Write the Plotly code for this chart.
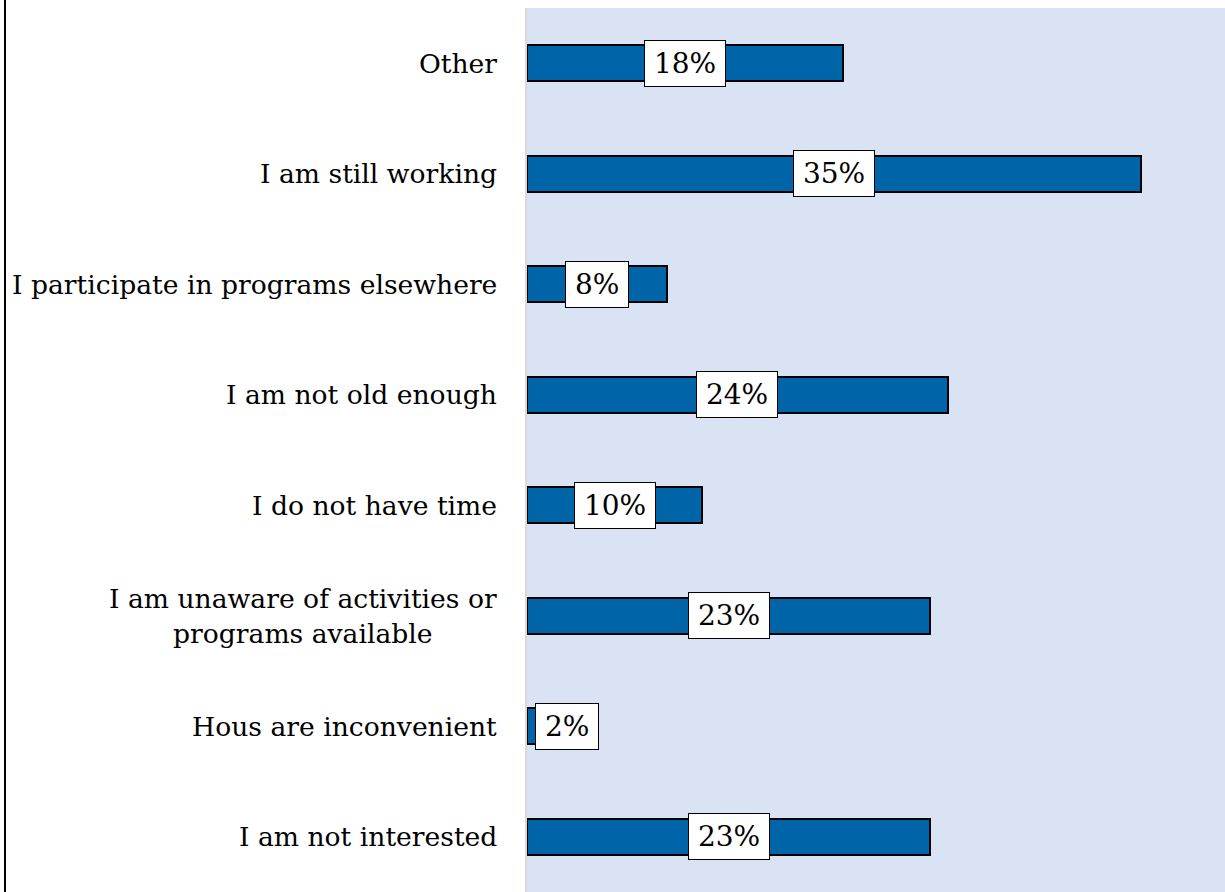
"""Horizontal bar chart: reasons for not participating."""

import plotly.graph_objects as go

categories = [
    "Other",
    "I am still working",
    "I participate in programs elsewhere",
    "I am not old enough",
    "I do not have time",
    "I am unaware of activities or<br>programs available",
    "Hous are inconvenient",
    "I am not interested",
]
percent = [18, 35, 8, 24, 10, 23, 2, 23]
x_max = 39.8

FONT = "DejaVu Serif"
BAR_COLOR = "#0064A8"
PLOT_BG = "#DAE3F3"
LABEL_SIZE = 28

fig = go.Figure(
    go.Bar(
        x=percent,
        y=categories,
        orientation="h",
        width=0.33,
        marker=dict(color=BAR_COLOR, line=dict(color="black", width=2)),
        hoverinfo="skip",
    )
)

# category labels, centred per line like the original
for cat in categories:
    fig.add_annotation(
        x=0, xref="paper", y=cat, yref="y",
        text=cat, showarrow=False,
        xanchor="right", xshift=-28, align="center",
        font=dict(family=FONT, size=26.6, color="black"),
    )

# value boxes in the middle of each bar
for cat, val in zip(categories, percent):
    label = f"{val}%"
    text_w = 0.636 * LABEL_SIZE * (len(label) - 1) + 0.95 * LABEL_SIZE + 10
    small = val < 5
    fig.add_annotation(
        x=0 if small else val / 2, y=cat,
        text=label, showarrow=False,
        xanchor="left" if small else "center",
        xshift=8 if small else 0,
        width=text_w, height=37,
        bgcolor="white", bordercolor="black", borderwidth=1, borderpad=4,
        font=dict(family=FONT, size=LABEL_SIZE, color="black"),
    )

# left frame line of the original chart
fig.add_shape(
    type="line", xref="paper", yref="paper",
    x0=(5 - 527) / 698, x1=(5 - 527) / 698, y0=-0.01, y1=1.02,
    line=dict(color="black", width=2),
)

fig.update_layout(
    width=1225,
    height=892,
    margin=dict(l=527, r=0, t=8, b=0),
    paper_bgcolor="white",
    plot_bgcolor=PLOT_BG,
    showlegend=False,
    bargap=0,
    xaxis=dict(range=[0, x_max], showgrid=False, zeroline=False,
               showticklabels=False, ticks=""),
    yaxis=dict(autorange="reversed", showgrid=False, showticklabels=False,
               ticks="", showline=True, linecolor="#D9D9D9", linewidth=2),
)

fig.write_html(
    "out.html",
    config={"displayModeBar": False},
    post_script="document.body.style.margin='0';",
)
